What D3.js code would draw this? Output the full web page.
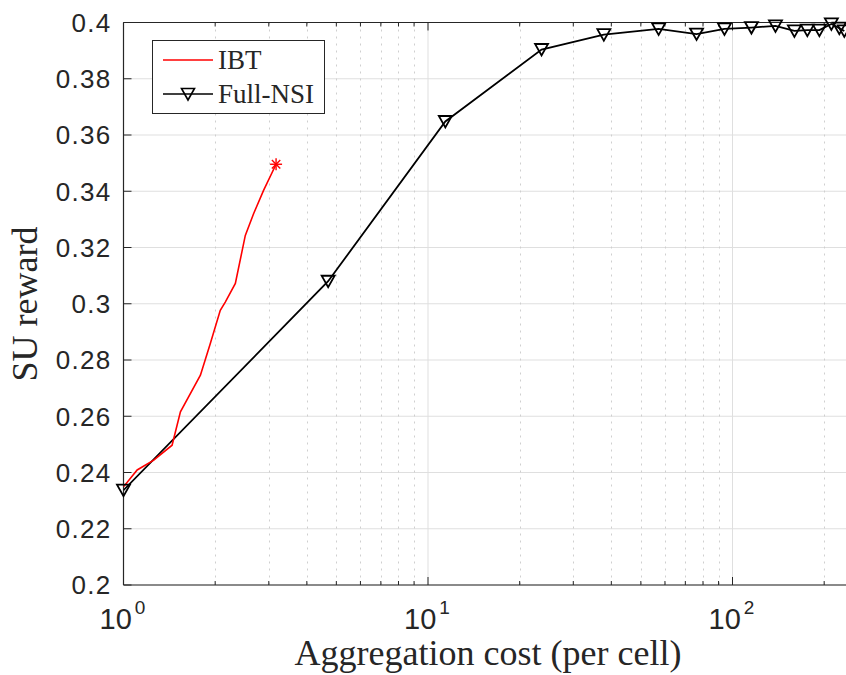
<!DOCTYPE html>
<html><head><meta charset="utf-8">
<script src="https://cdn.jsdelivr.net/npm/d3@7"></script>
<style>body{margin:0;background:#fff}svg{display:block}</style>
</head><body>
<svg id="c" width="846" height="675"></svg>
<script>
// ---- data ----
const ibtX = [1.0, 1.109, 1.257, 1.444, 1.538, 1.789, 1.928, 2.079, 2.159, 2.330, 2.512, 2.674, 2.884, 3.17];
const ibtY = [0.2349, 0.2409, 0.2444, 0.2497, 0.2616, 0.2746, 0.2859, 0.2977, 0.3006, 0.3072, 0.3243, 0.3320, 0.3403, 0.3496];
const nsiX = [1.0, 4.70, 11.4, 23.6, 37.8, 57.2, 76.2, 94.1, 115.4, 138.4, 159.7, 176.1, 192.9, 211.2, 224.3, 232.9];
const nsiY = [0.2337, 0.3080, 0.3648, 0.3904, 0.3957, 0.3977, 0.3959, 0.3977, 0.3982, 0.3988, 0.3970, 0.3973, 0.3973, 0.3995, 0.3980, 0.3970];
const yTicks = [0.2, 0.22, 0.24, 0.26, 0.28, 0.3, 0.32, 0.34, 0.36, 0.38, 0.4];
const yTickLabels = ["0.2","0.22","0.24","0.26","0.28","0.3","0.32","0.34","0.36","0.38","0.4"];
const xMajor = [1, 10, 100];
const xMajorExp = ["0", "1", "2"];
const seriesNames = ["IBT", "Full-NSI"];
const xLabel = "Aggregation cost (per cell)";
const yLabel = "SU reward";

// ---- layout ----
const L = 123.5, T = 22.5, B = 585, dec = 304.5;
const xMax = 240;
const x = d3.scaleLog().domain([1, xMax]).range([L, L + dec * Math.log10(xMax)]);
const y = d3.scaleLinear().domain([0.2, 0.4]).range([B, T]);
const R = x(xMax);
const axisCol = "#262626";
const sans = "Liberation Sans, Arial, Helvetica, sans-serif";
const serif = "Liberation Serif, Times New Roman, serif";
const svg = d3.select("#c");

svg.append("clipPath").attr("id","cp").append("rect")
  .attr("x", L).attr("y", T).attr("width", R - L).attr("height", B - T);

// minor x values
const xMinor = [];
for (let k = 0; k < 3; k++) for (let m = 2; m <= 9; m++) { const v = m * Math.pow(10, k); if (v < xMax) xMinor.push(v); }

const grid = svg.append("g");
grid.selectAll(".yg").data(yTicks).join("line")
  .attr("x1", L).attr("x2", R).attr("y1", d => y(d)).attr("y2", d => y(d))
  .attr("stroke", "#dfdfdf").attr("stroke-width", 1);
grid.selectAll(".xm").data(xMinor).join("line")
  .attr("x1", d => Math.round(x(d)) + 0.5).attr("x2", d => Math.round(x(d)) + 0.5).attr("y1", T).attr("y2", B)
  .attr("stroke", "#cfcfcf").attr("stroke-width", 1).attr("stroke-dasharray", "2,5");
grid.selectAll(".xg").data(xMajor).join("line")
  .attr("x1", d => x(d)).attr("x2", d => x(d)).attr("y1", T).attr("y2", B)
  .attr("stroke", "#dfdfdf").attr("stroke-width", 1);

// axes box lines
svg.append("line").attr("x1", L).attr("x2", L).attr("y1", T).attr("y2", B).attr("stroke", axisCol).attr("stroke-width", 1.2);
svg.append("line").attr("x1", L).attr("x2", R).attr("y1", B).attr("y2", B).attr("stroke", axisCol).attr("stroke-width", 1.2);
svg.append("line").attr("x1", L).attr("x2", R).attr("y1", T).attr("y2", T).attr("stroke", axisCol).attr("stroke-width", 1.2);

// ticks
const tk = svg.append("g").attr("stroke", axisCol).attr("stroke-width", 1);
tk.selectAll(".yt").data(yTicks).join("line")
  .attr("x1", L).attr("x2", L + 8).attr("y1", d => y(d)).attr("y2", d => y(d));
tk.selectAll(".xtb").data(xMajor).join("line")
  .attr("x1", d => x(d)).attr("x2", d => x(d)).attr("y1", B).attr("y2", B - 8);
tk.selectAll(".xtt").data(xMajor).join("line")
  .attr("x1", d => x(d)).attr("x2", d => x(d)).attr("y1", T).attr("y2", T + 8);
tk.selectAll(".xmb").data(xMinor).join("line")
  .attr("x1", d => x(d)).attr("x2", d => x(d)).attr("y1", B).attr("y2", B - 4);
tk.selectAll(".xmt").data(xMinor).join("line")
  .attr("x1", d => x(d)).attr("x2", d => x(d)).attr("y1", T).attr("y2", T + 4);

// tick labels
svg.selectAll(".yl").data(yTicks).join("text")
  .attr("x", L - 12).attr("y", d => y(d)).attr("dy", "0.36em")
  .attr("text-anchor", "end").attr("font-family", sans).attr("letter-spacing", 1.3)
  .attr("font-size", 26).attr("fill", axisCol).text((d, i) => yTickLabels[i]);

const xl = svg.selectAll(".xl").data(xMajor).join("text")
  .attr("x", d => x(d) - 1).attr("y", 629)
  .attr("text-anchor", "middle").attr("font-family", sans)
  .attr("font-size", 29).attr("fill", axisCol);
xl.append("tspan").text("10");
xl.append("tspan").attr("dx", 3).attr("dy", -15).attr("font-size", 19).text((d, i) => xMajorExp[i]);

// axis titles
svg.append("text").attr("x", 488).attr("y", 665)
  .attr("text-anchor", "middle").attr("font-family", serif)
  .attr("font-size", 36).attr("fill", axisCol).text(xLabel);
svg.append("text").attr("transform", `translate(37,304) rotate(-90)`)
  .attr("text-anchor", "middle").attr("font-family", serif)
  .attr("font-size", 36).attr("fill", axisCol).text(yLabel);

// data
const line = d3.line().x(d => x(d[0])).y(d => y(d[1]));
const plot = svg.append("g").attr("clip-path", "url(#cp)");
const nsi = nsiX.map((v, i) => [v, nsiY[i]]);
const ibt = ibtX.map((v, i) => [v, ibtY[i]]);
plot.append("path").datum(nsi).attr("d", line).attr("fill", "none").attr("stroke", "#000").attr("stroke-width", 1.8);
plot.append("path").datum(ibt).attr("d", line).attr("fill", "none").attr("stroke", "#ff0000").attr("stroke-width", 1.6);

const tri = "M-6.5,-5.5L6.5,-5.5L0,6Z";
svg.selectAll(".mk").data(nsi).join("path")
  .attr("transform", d => `translate(${x(d[0])},${y(d[1])})`)
  .attr("d", tri).attr("fill", "none").attr("stroke", "#000").attr("stroke-width", 1.8);

// star at end of IBT
const last = ibt[ibt.length - 1];
const star = svg.append("g").attr("transform", `translate(${x(last[0])},${y(last[1])})`)
  .attr("stroke", "#ff0000").attr("stroke-width", 1.4);
const s = 6;
star.append("line").attr("x1", -s).attr("x2", s).attr("y1", 0).attr("y2", 0);
star.append("line").attr("x1", 0).attr("x2", 0).attr("y1", -s).attr("y2", s);
star.append("line").attr("x1", -s * 0.7).attr("x2", s * 0.7).attr("y1", -s * 0.7).attr("y2", s * 0.7);
star.append("line").attr("x1", -s * 0.7).attr("x2", s * 0.7).attr("y1", s * 0.7).attr("y2", -s * 0.7);

// legend
const lg = svg.append("g");
lg.append("rect").attr("x", 152.5).attr("y", 40.5).attr("width", 172).attr("height", 73)
  .attr("fill", "#fff").attr("stroke", axisCol).attr("stroke-width", 1);
const rows = [60, 94];
lg.append("line").attr("x1", 163).attr("x2", 213).attr("y1", rows[0]).attr("y2", rows[0]).attr("stroke", "#ff0000").attr("stroke-width", 1.6);
lg.append("line").attr("x1", 163).attr("x2", 213).attr("y1", rows[1]).attr("y2", rows[1]).attr("stroke", "#000").attr("stroke-width", 1.6);
lg.append("path").attr("transform", `translate(188,${rows[1]})`).attr("d", tri).attr("fill", "none").attr("stroke", "#000").attr("stroke-width", 1.6);
lg.selectAll(".lt").data(seriesNames).join("text")
  .attr("x", 218).attr("y", (d, i) => rows[i]).attr("dy", "0.35em")
  .attr("font-family", serif).attr("font-size", 27)
  .attr("fill", axisCol).text(d => d);
</script>
</body></html>
